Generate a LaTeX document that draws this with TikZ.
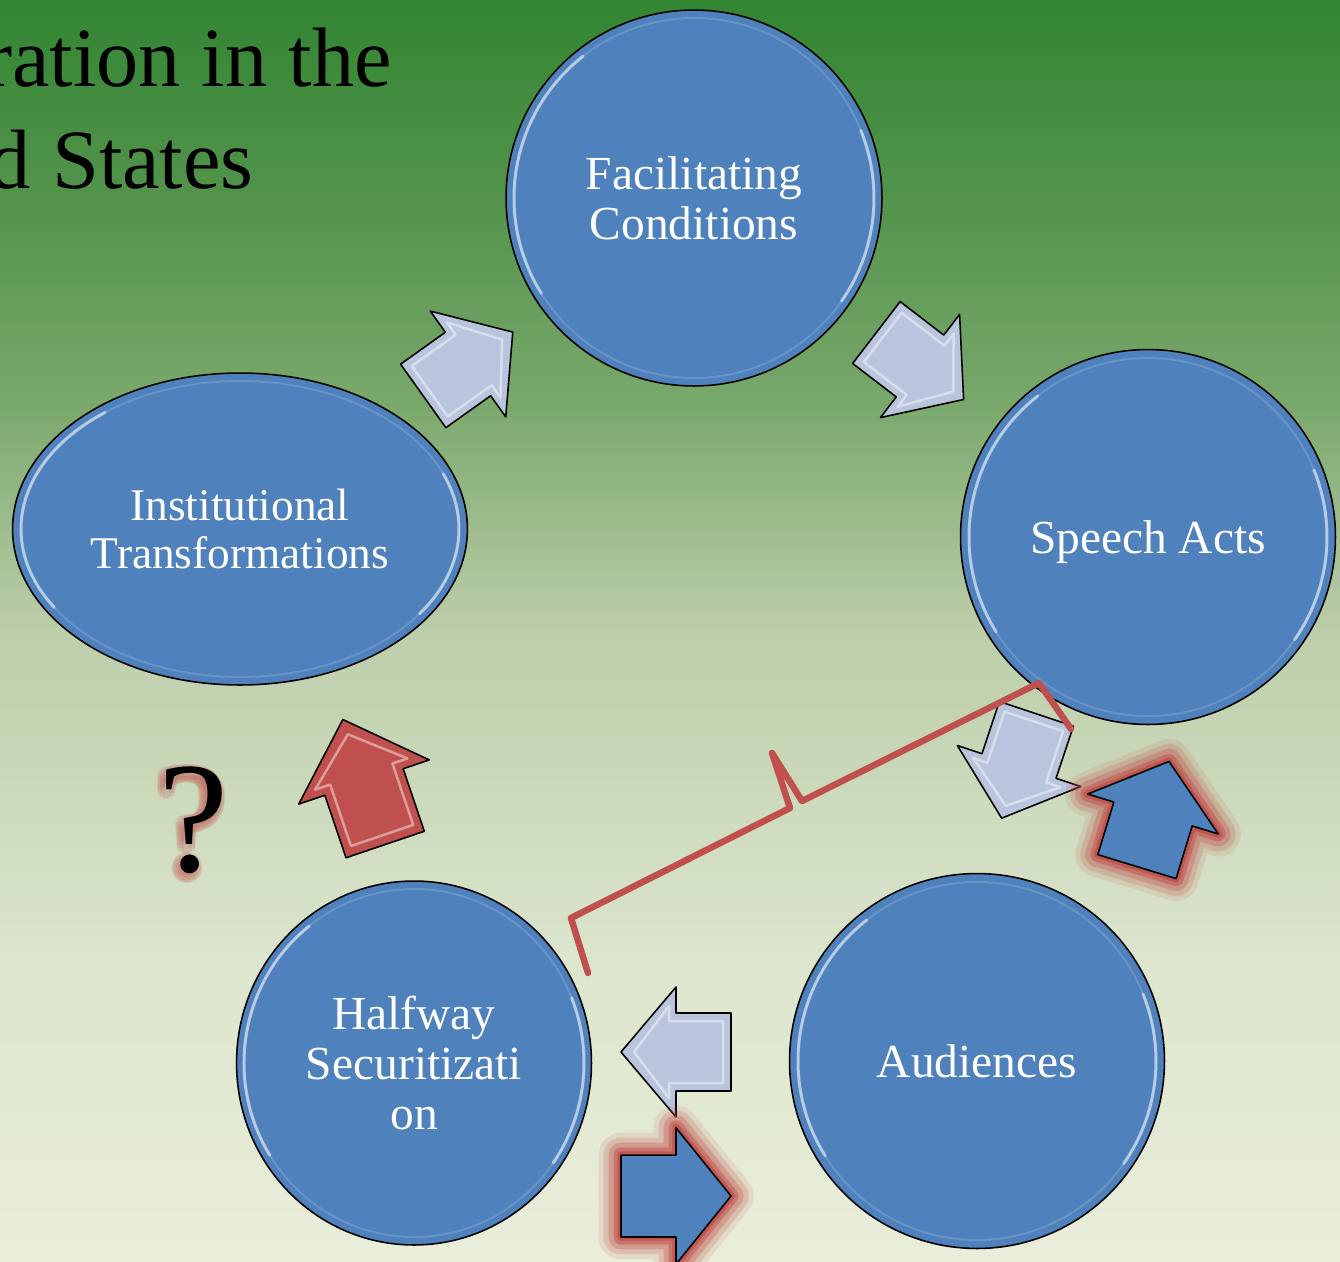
\documentclass[tikz,border=0pt]{standalone}
\usepackage{fontspec}
\setmainfont{Liberation Serif}
\usetikzlibrary{shapes.geometric}

\definecolor{bgtop}{RGB}{50,133,50}
\definecolor{bghigh}{RGB}{88,150,80}
\definecolor{bgmid2}{RGB}{122,168,108}
\definecolor{bgmid}{RGB}{188,206,170}
\definecolor{bglow}{RGB}{220,229,205}
\definecolor{bgbot}{RGB}{233,238,218}
\definecolor{bubblue}{RGB}{79,129,189}
\definecolor{paleblue}{RGB}{185,197,221}
\definecolor{glowred}{RGB}{192,80,77}
\pgfdeclareverticalshading{slidebg}{100bp}{color(0bp)=(bgbot); color(25bp)=(bgbot); color(37bp)=(bglow); color(50bp)=(bgmid); color(59bp)=(bgmid2); color(66bp)=(bghigh); color(75bp)=(bgtop); color(100bp)=(bgtop)}

\begin{document}
\begin{tikzpicture}[line cap=round,line join=round,x=0.02cm,y=-0.02cm,
  bubble/.style={circle,draw=black,line width=0.9pt,fill=bubblue,text=white,align=center,inner sep=0pt,
    font=\fontsize{27}{28.3}\selectfont},
  oval/.style={bubble,ellipse},
  rimline/.style={draw=white!75!bubblue,line width=0.06cm,opacity=0.75},
  rimfaint/.style={draw=white!60!bubblue,line width=0.04cm,opacity=0.25},
  pics/blockarrow/.style={code={
    \path[pic actions] (-55,-39) -- (0,-39) -- (0,-65) -- (55,0) -- (0,65) -- (0,39) -- (-55,39) -- cycle;}},
  pics/bevel/.style={code={
    \draw[white,line width=0.05cm,opacity=0.45] (-47,-31) -- (7,-31) -- (7,-46) -- (42,0) -- (7,46) -- (7,31) -- (-47,31) -- cycle;}},
  palearrow/.style={draw=black,line width=0.9pt,fill=paleblue},
  bracket/.style={draw=glowred,line width=0.13cm}]
\useasboundingbox (0,0) rectangle (1340,1262);
\shade[shading=slidebg] (0,0) rectangle (1340,1262);

\node[anchor=base east,inner sep=0pt,font=\fontsize{48}{58}\selectfont] (title1) at (392,86) {ration in the};
\node[anchor=base east,inner sep=0pt,font=\fontsize{48}{58}\selectfont] (title2) at (254,188) {d States};

\node[bubble,minimum size=7.52cm] (fac) at (694,198) {Facilitating\\Conditions};
\node[bubble,minimum size=7.5cm,text depth=0pt] (speech) at (1148,537) {Speech Acts};
\node[bubble,minimum size=7.5cm] (aud) at (977,1061) {Audiences};
\node[oval,minimum width=7.1cm,minimum height=7.28cm] (half) at (414,1063) {Halfway\\Securitizati\\on};
\node[oval,minimum width=9.1cm,minimum height=6.24cm,font=\fontsize{25.8}{27.6}\selectfont] (inst) at (240,529) {Institutional\\Transformations};

\foreach \n/\rx/\ry in {fac/180/180,speech/179/179,aud/179/179,half/170/174,inst/219/148}{
  \draw[rimfaint] (\n.center) ellipse[x radius=\rx,y radius=\ry];
  \draw[rimline] (\n.center) ++({\rx*cos(-128)},{\ry*sin(-128)}) arc[start angle=-128,end angle=-212,x radius=\rx,y radius=\ry];
  \draw[rimline] (\n.center) ++({\rx*cos(35)},{\ry*sin(35)}) arc[start angle=35,end angle=-22,x radius=\rx,y radius=\ry];
}

\foreach \x/\y/\a in {468/364/35.5,920/366/-37.5,1019/766/-108.4,676/1052/180}{
  \pic[palearrow,rotate=\a] at (\x,\y) {blockarrow};
  \pic[rotate=\a] at (\x,\y) {bevel};
}

\foreach \x/\y/\a in {1153/814/73,676/1196/0}{
  \foreach \w/\o in {0.9/0.12,0.7/0.2,0.5/0.3,0.3/0.5,0.15/0.8}
    \pic[draw=glowred,line width=\w cm,draw opacity=\o,rotate=\a,yscale=1.05] at (\x,\y) {blockarrow};
  \pic[draw=black,line width=0.9pt,fill=bubblue,rotate=\a,yscale=1.05] at (\x,\y) {blockarrow};
}

\pic[draw=black,line width=0.9pt,fill=glowred,rotate=108.7,xscale=1.2,yscale=1.06] at (364,782) {blockarrow};
\pic[rotate=108.7,xscale=1.2,yscale=1.06] at (364,782) {bevel};

\foreach \a in {0,30,...,330}
  \node[anchor=base,inner sep=0pt,text=glowred,text opacity=0.13,font=\fontsize{90}{90}\selectfont,shift={(\a:6)}] at (191,875) {?};
\node[anchor=base,inner sep=0pt,font=\fontsize{90}{90}\selectfont] (qmark) at (194,871) {?};

\draw[bracket] (588,973) -- (571,918) -- (790,808) -- (772,753) -- (802,801) -- (1039,683) -- (1071,729);
\end{tikzpicture}
\end{document}
